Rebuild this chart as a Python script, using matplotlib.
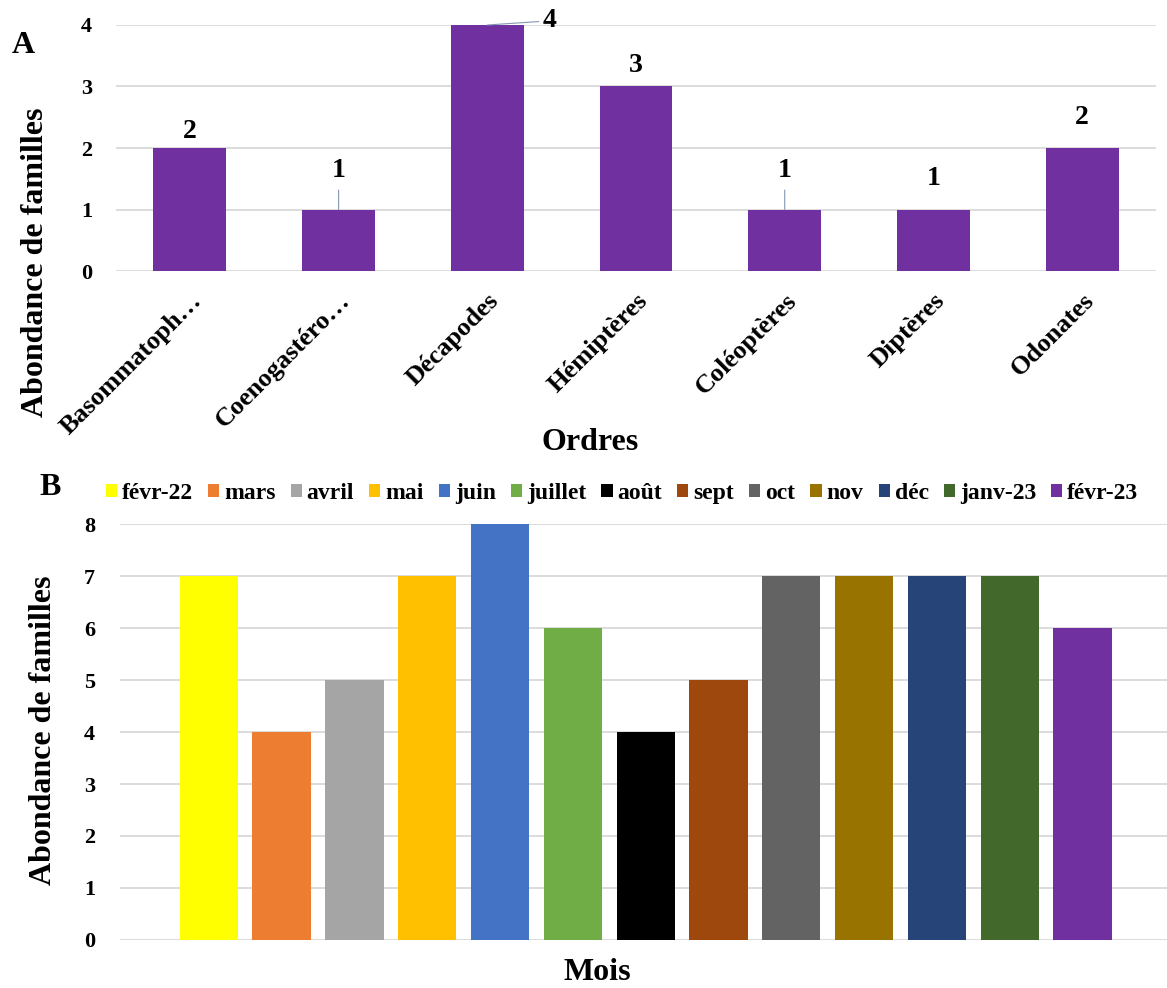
import matplotlib.pyplot as plt

plt.rcParams['font.family'] = ['Liberation Serif', 'DejaVu Serif']
plt.rcParams['font.weight'] = 'bold'

# panel A data
ordres = ['Basommatoph…', 'Coenogastéro…', 'Décapodes', 'Hémiptères',
          'Coléoptères', 'Diptères', 'Odonates']
abond_ordres = [2, 1, 4, 3, 1, 1, 2]

# panel B data
mois = ['févr-22', 'mars', 'avril', 'mai', 'juin', 'juillet', 'août',
        'sept', 'oct', 'nov', 'déc', 'janv-23', 'févr-23']
abond_mois = [7, 4, 5, 7, 8, 6, 4, 5, 7, 7, 7, 7, 6]
couleurs = ['#FFFF00', '#ED7D31', '#A5A5A5', '#FFC000', '#4472C4', '#70AD47',
            '#000000', '#9E480E', '#636363', '#997300', '#264478', '#43682B',
            '#7030A0']

# where the data labels of panel A sit (points above the bar, None = leader line to the right)
lbl_offset = [3, 19, None, 6, 19, 13, 13]
lbl_line = [False, True, True, False, True, False, False]

grid_col = '#D9D9D9'
line_col = '#8497B0'
fig = plt.figure(figsize=(11.67, 9.88), dpi=100)

# ---- A ----
ax1 = fig.add_axes([0.099, 0.7257, 0.892, 0.249])
x = range(len(ordres))
ax1.bar(x, abond_ordres, width=0.49, color='#7030A0', zorder=3)
ax1.set_ylim(0, 4)
ax1.set_xlim(-0.5, len(ordres) - 0.5)
ax1.set_yticks([0, 1, 2, 3, 4])
ax1.yaxis.grid(True, color=grid_col, lw=1.3, zorder=0)
for s in ax1.spines.values():
    s.set_visible(False)
ax1.tick_params(axis='y', length=0, labelsize=16, pad=17)
ax1.tick_params(axis='x', length=0, labelsize=19, pad=13)
ax1.set_xticks(list(x))
ax1.set_xticklabels(ordres, rotation=45, ha='right', rotation_mode='anchor')
ax1.set_xlabel('Ordres', fontsize=23, fontweight='bold')
ax1.xaxis.set_label_coords(0.456, -0.728)
ax1.xaxis.label.set_va('baseline')

for i, v in enumerate(abond_ordres):
    off = lbl_offset[i]
    if off is None:
        ax1.annotate(str(v), xy=(i, v), xytext=(40, 3), textcoords='offset points',
                     ha='left', va='center', fontsize=20,
                     arrowprops=dict(arrowstyle='-', color=line_col, lw=0.8,
                                     shrinkA=1, shrinkB=0))
    elif lbl_line[i]:
        ax1.annotate(str(v), xy=(i, v), xytext=(0, off), textcoords='offset points',
                     ha='center', va='bottom', fontsize=20,
                     arrowprops=dict(arrowstyle='-', color=line_col, lw=0.8,
                                     shrinkA=3, shrinkB=0))
    else:
        ax1.annotate(str(v), xy=(i, v), xytext=(0, off), textcoords='offset points',
                     ha='center', va='bottom', fontsize=20)

fig.text(0.030, 0.735, 'Abondance de familles', rotation=90, ha='center', va='center',
         fontsize=23, fontweight='bold')
fig.text(0.010, 0.946, 'A', fontsize=23, fontweight='bold')

# ---- B ----
ax2 = fig.add_axes([0.1028, 0.0486, 0.899, 0.421])
for i, (m, v, c) in enumerate(zip(mois, abond_mois, couleurs)):
    ax2.bar(i, v, width=0.8, color=c, label=m, zorder=3)
ax2.set_ylim(0, 8)
ax2.set_xlim(-1.22, 13.19)
ax2.set_yticks(range(9))
ax2.set_xticks([])
ax2.yaxis.grid(True, color=grid_col, lw=1.3, zorder=0)
for s in ax2.spines.values():
    s.set_visible(False)
ax2.tick_params(length=0, labelsize=16, pad=18)
ax2.set_xlabel('Mois', fontsize=23, fontweight='bold')
ax2.xaxis.set_label_coords(0.455, -0.097)
ax2.xaxis.label.set_va('baseline')
ax2.legend(loc='center', bbox_to_anchor=(0.533, 0.501), bbox_transform=fig.transFigure,
           ncol=13, frameon=False, fontsize=17, handlelength=0.47, handleheight=0.47,
           handletextpad=0.21, columnspacing=0.64, borderpad=0, borderaxespad=0)

fig.text(0.037, 0.261, 'Abondance de familles', rotation=90, ha='center', va='center',
         fontsize=23, fontweight='bold')
fig.text(0.034, 0.499, 'B', fontsize=23, fontweight='bold')

fig.savefig('out.png', dpi=100)
